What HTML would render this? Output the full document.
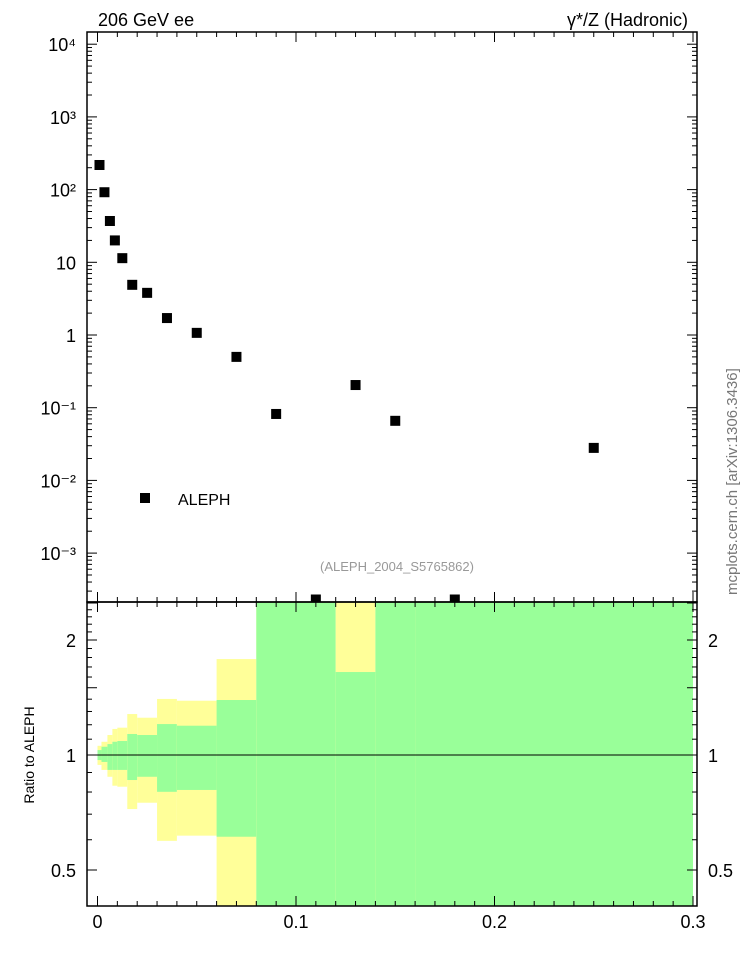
<!DOCTYPE html>
<html><head><meta charset="utf-8"><style>
body{margin:0;background:#fff}
svg{display:block;font-family:"Liberation Sans",Arial,sans-serif}
</style></head><body>
<svg id="c" width="746" height="972" xmlns="http://www.w3.org/2000/svg">
<text x="98" y="26" font-size="18">206 GeV ee</text>
<text x="688" y="26" font-size="18" text-anchor="end">γ*/Z (Hadronic)</text>
<text x="0" y="0" font-size="15" fill="#777" transform="translate(737,595) rotate(-90)">mcplots.cern.ch [arXiv:1306.3436]</text>
<text x="397" y="571" font-size="13" fill="#999" text-anchor="middle">(ALEPH_2004_S5765862)</text>
<text x="0" y="0" font-size="14" text-anchor="middle" transform="translate(34,755) rotate(-90)">Ratio to ALEPH</text>
<rect x="140" y="493" width="10" height="10" fill="#000"/>
<text x="178" y="505" font-size="16">ALEPH</text>
<g id="bands"></g><g id="main"></g><g id="axes"></g>
</svg>
<script>
const edges=[0,0.002,0.005,0.0075,0.01,0.015,0.02,0.03,0.04,0.06,0.08,0.1,0.12,0.14,0.16,0.2,0.3];
const values=[218,92,37,20,11.4,4.9,3.8,1.71,1.07,0.50,0.082,0.00023,0.205,0.066,0.00023,0.028];
const yelHi=[1.057,1.083,1.128,1.170,1.179,1.280,1.252,1.402,1.387,1.783,3,3,3,3,3,3];
const grnHi=[1.030,1.051,1.068,1.083,1.088,1.135,1.128,1.205,1.193,1.393,3,3,1.649,3,3,3];
const grnLo=[0.970,0.959,0.914,0.914,0.914,0.860,0.877,0.801,0.810,0.611,0.3,0.3,0.3,0.3,0.3,0.3];
const yelLo=[0.942,0.914,0.877,0.831,0.826,0.722,0.750,0.596,0.615,0.3,0.3,0.3,0.3,0.3,0.3,0.3];
const xTicks=[0,0.1,0.2,0.3];
const yTicks=[4,3,2,1,0,-1,-2,-3];
const yTickLabels=["10⁴","10³","10²","10","1","10⁻¹","10⁻²","10⁻³"];
const rTicks=[2,1,0.5];
const NS="http://www.w3.org/2000/svg";
const L=87,R=697,T=32,M=602,B=906;
const sx=v=>97.5+v*1985;
const sy=v=>335-Math.log10(v)*72.7;
const sr=v=>755-Math.log10(v)*382;
function mk(p,t,a){const e=document.createElementNS(NS,t);for(const k in a)e.setAttribute(k,a[k]);p.appendChild(e);return e;}
const clamp=(y,a,b)=>Math.max(a,Math.min(b,y));
const bands=document.getElementById('bands'),main=document.getElementById('main'),axes=document.getElementById('axes');
for(let i=0;i<values.length;i++){
  const x0=sx(edges[i]),x1=Math.min(sx(edges[i+1]),R-4);
  const yt=clamp(sr(yelHi[i]),M,B),yb=clamp(sr(yelLo[i]),M,B);
  const y=mk(bands,'rect',{x:x0,y:yt,width:x1-x0,height:yb-yt,fill:'#ffff99'});
  
  
  const gt=clamp(sr(grnHi[i]),M,B),gb=clamp(sr(grnLo[i]),M,B);
  const g=mk(bands,'rect',{x:x0,y:gt,width:x1-x0,height:gb-gt,fill:'#99ff99'});
  
  
  const cx=sx((edges[i]+edges[i+1])/2),cy=sy(values[i]);
  const top=cy-5,bot=Math.min(cy+5,M);
  if(bot>top){
    const p=mk(main,'rect',{x:cx-5,y:top,width:10,height:bot-top,fill:'#000'});
    
    
  }
}
const rl=mk(axes,'line',{x1:L,x2:R,y1:sr(1),y2:sr(1),stroke:'#000','stroke-width':1});


for(const [y0,y1] of [[T,M],[M,B]]){
  const f=mk(axes,'rect',{x:L,y:y0,width:R-L,height:y1-y0,fill:'none',stroke:'#000','stroke-width':1.5});
  
  
}
// x ticks
for(let k=0;k<=30;k++){
  const v=k/100,x=sx(v),len=k%10==0?10:5;
  for(const yy of [T,M,B]){
    mk(axes,'line',{x1:x,x2:x,y1:yy,y2:yy+(yy==B?-len:len),stroke:'#000'});
    if(yy==M) mk(axes,'line',{x1:x,x2:x,y1:M,y2:M-len,stroke:'#000'});
  }
}
xTicks.forEach(v=>{const t=mk(axes,'text',{x:sx(v),y:928,'font-size':18,'text-anchor':'middle'});t.textContent=String(v);

});
// log y ticks
for(let d=-4;d<=4;d++){
  for(let m=1;m<10;m++){
    const y=sy(m*Math.pow(10,d));if(y<T||y>M)continue;
    const len=m==1?10:5;
    mk(axes,'line',{x1:L,x2:L+len,y1:y,y2:y,stroke:'#000'});
    mk(axes,'line',{x1:R,x2:R-len,y1:y,y2:y,stroke:'#000'});
  }
}
yTicks.forEach((d,i)=>{const t=mk(axes,'text',{x:76,y:sy(Math.pow(10,d))+7,'font-size':18,'text-anchor':'end'});t.textContent=yTickLabels[i];

});
// ratio ticks
for(let k=4;k<=25;k++){
  const v=k/10,y=sr(v);if(y<M||y>B)continue;
  const len=(k%5==0)?10:5;
  mk(axes,'line',{x1:L,x2:L+len,y1:y,y2:y,stroke:'#000'});
  mk(axes,'line',{x1:R,x2:R-len,y1:y,y2:y,stroke:'#000'});
}
rTicks.forEach(v=>{
  const t=mk(axes,'text',{x:76,y:sr(v)+7,'font-size':18,'text-anchor':'end'});t.textContent=String(v);
  
  
  const t2=mk(axes,'text',{x:708,y:sr(v)+7,'font-size':18});t2.textContent=String(v);
  
  
});
</script>
</body></html>
